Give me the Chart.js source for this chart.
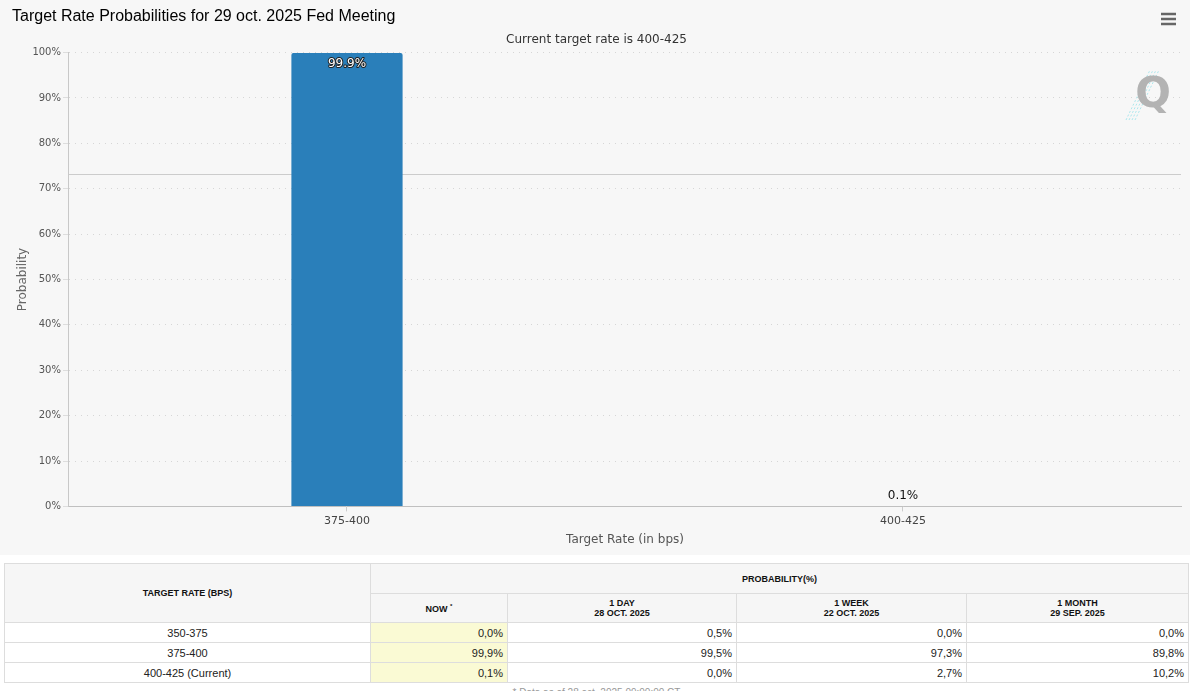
<!DOCTYPE html>
<html>
<head>
<meta charset="utf-8">
<script src="https://cdn.jsdelivr.net/npm/chart.js@4.4.1/dist/chart.umd.min.js"></script>
<style>
  body { margin: 0; background: #fff; font-family: "Liberation Sans", Arial, sans-serif; }
  #wrap { position: absolute; left: 0; top: 0; width: 1190px; height: 555px; background: #f7f7f7; }
  table { position: absolute; left: 4px; top: 563px; width: 1185px; border-collapse: collapse; font-size: 11px; color: #222; }
  td, th { border: 1px solid #ddd; padding: 0 4px; }
  th { background: #f6f6f6; font-size: 9px; font-weight: bold; color: #111; }
  td { height: 19px; text-align: right; }
  td.rate { text-align: center; }
  td.now { background: #fafad4; }
  td.note { border: none; text-align: center; color: #999; font-size: 10px; height: 14px; vertical-align: top; padding-top: 4px; }
</style>
</head>
<body>
<div id="wrap"><canvas id="chart" width="1190" height="555"></canvas></div>
<table id="tbl"></table>
<script>
// chart data
const categories = ['375-400', '400-425'];
const probabilities = [99.9, 0.1];
const yTicks = [0, 10, 20, 30, 40, 50, 60, 70, 80, 90, 100];
const crosshairValue = 73.3; // hover line seen in the screenshot

// table data
const tableRates = ['350-375', '375-400', '400-425 (Current)'];
const tableNow = ['0,0%', '99,9%', '0,1%'];
const tableDay = ['0,5%', '99,5%', '0,0%'];
const tableWeek = ['0,0%', '97,3%', '2,7%'];
const tableMonth = ['0,0%', '89,8%', '10,2%'];

const tbl = document.getElementById('tbl');
let html = '<tr><th rowspan="2" style="width:357px;height:29px">TARGET RATE (BPS)</th>' +
  '<th colspan="4" style="height:29px">PROBABILITY(%)</th></tr>' +
  '<tr><th style="width:128px;height:28px">NOW <sup style="font-size:6px">*</sup></th>' +
  '<th style="width:220px">1 DAY<br>28 OCT. 2025</th>' +
  '<th style="width:221px">1 WEEK<br>22 OCT. 2025</th>' +
  '<th>1 MONTH<br>29 SEP. 2025</th></tr>';
for (let i = 0; i < tableRates.length; i++) {
  html += '<tr><td class="rate">' + tableRates[i] + '</td><td class="now">' + tableNow[i] +
    '</td><td>' + tableDay[i] + '</td><td>' + tableWeek[i] + '</td><td>' + tableMonth[i] + '</td></tr>';
}
html += '<tr><td class="note" colspan="5">* Data as of 28 oct. 2025 09:00:00 CT</td></tr>';
tbl.innerHTML = html;

const extras = {
  id: 'extras',
  beforeDatasetsDraw(chart) {
    // crosshair line, behind the bars
    const ctx = chart.ctx;
    const area = chart.chartArea;
    const cy = Math.round(chart.scales.y.getPixelForValue(crosshairValue)) + 0.5;
    ctx.save();
    ctx.strokeStyle = '#cccccc';
    ctx.lineWidth = 1;
    ctx.beginPath();
    ctx.moveTo(area.left, cy);
    ctx.lineTo(area.right, cy);
    ctx.stroke();
    ctx.restore();
  },
  afterDatasetsDraw(chart) {
    const ctx = chart.ctx;
    ctx.save();

    // data labels
    const meta = chart.getDatasetMeta(0);
    ctx.textAlign = 'center';
    meta.data.forEach((bar, i) => {
      const v = probabilities[i];
      const txt = v + '%';
      ctx.font = '12px "DejaVu Sans"';
      if (v > 50) {
        ctx.textBaseline = 'top';
        ctx.lineWidth = 2;
        ctx.strokeStyle = '#222';
        ctx.lineJoin = 'round';
        ctx.strokeText(txt, bar.x, bar.y + 5);
        ctx.fillStyle = '#fff';
        ctx.fillText(txt, bar.x, bar.y + 5);
      } else {
        ctx.textBaseline = 'bottom';
        ctx.fillStyle = '#111';
        ctx.fillText(txt, bar.x, bar.y - 4);
      }
    });

    // watermark
    ctx.strokeStyle = 'rgba(120,220,230,0.6)';
    ctx.lineWidth = 1;
    ctx.setLineDash([2, 2]);
    for (let k = 0; k < 4; k++) {
      ctx.beginPath();
      ctx.moveTo(1126 + k * 3, 120);
      ctx.lineTo(1150 + k * 3, 70);
      ctx.stroke();
    }
    ctx.setLineDash([]);
    ctx.font = 'bold 42px "DejaVu Sans"';
    ctx.fillStyle = '#b3b3b3';
    ctx.textBaseline = 'middle';
    ctx.fillText('Q', 1153, 96);

    // menu icon
    ctx.strokeStyle = '#666';
    ctx.lineWidth = 2.5;
    [14, 19, 24].forEach(yy => {
      ctx.beginPath();
      ctx.moveTo(1161, yy);
      ctx.lineTo(1176, yy);
      ctx.stroke();
    });
    ctx.restore();
  }
};

new Chart(document.getElementById('chart'), {
  type: 'bar',
  data: {
    labels: categories,
    datasets: [{
      data: probabilities,
      backgroundColor: '#2a7fba',
      borderRadius: { topLeft: 2, topRight: 2 },
      borderSkipped: 'bottom',
      barPercentage: 0.2,
      categoryPercentage: 1
    }]
  },
  options: {
    responsive: false,
    animation: false,
    layout: { padding: { left: 12, right: 9, bottom: 4 } },
    plugins: {
      legend: { display: false },
      tooltip: { enabled: false },
      title: {
        display: true,
        text: 'Target Rate Probabilities for 29 oct. 2025 Fed Meeting',
        align: 'start',
        color: '#000',
        font: { family: '"Liberation Sans", Arial', size: 16, weight: 'normal' },
        padding: { top: 7, bottom: 4 }
      },
      subtitle: {
        display: true,
        text: 'Current target rate is 400-425',
        color: '#333',
        font: { family: '"DejaVu Sans"', size: 12 },
        padding: { top: 2, bottom: 6 }
      }
    },
    scales: {
      x: {
        grid: { display: true, drawOnChartArea: false, offset: false, tickLength: 5, tickColor: '#ccc' },
        border: { color: '#c0c0c0' },
        ticks: { color: '#444', font: { family: '"DejaVu Sans"', size: 11 }, padding: 3 },
        title: { display: true, text: 'Target Rate (in bps)', color: '#555', font: { family: '"DejaVu Sans"', size: 12 }, padding: { top: 2 } }
      },
      y: {
        min: 0,
        max: 100,
        afterBuildTicks: (s) => { s.ticks = yTicks.map(v => ({ value: v })); },
        grid: { color: '#d6d6d6', tickLength: 6, tickColor: '#ddd' },
        border: { color: '#c8c8c8', dash: [1, 5] },
        ticks: { color: '#555', font: { family: '"DejaVu Sans"', size: 10 }, padding: 2, callback: v => v + '%' },
        title: { display: true, text: 'Probability', color: '#666', font: { family: '"DejaVu Sans"', size: 12 }, padding: { bottom: 0 } }
      }
    }
  },
  plugins: [extras]
});
</script>
</body>
</html>
